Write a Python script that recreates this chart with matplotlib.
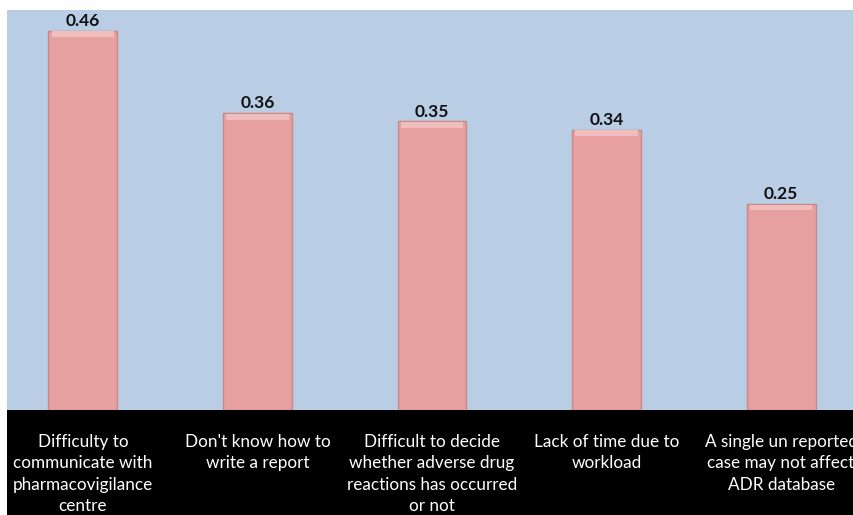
import matplotlib
matplotlib.use("Agg")
import matplotlib.pyplot as plt

# ---- Data ----
categories = [
    "Difficulty to\ncommunicate with\npharmacovigilance\ncentre",
    "Don't know how to\nwrite a report",
    "Difficult to decide\nwhether adverse drug\nreactions has occurred\nor not",
    "Lack of time due to\nworkload",
    "A single un reported\ncase may not affect\nADR database",
]
values = [0.46, 0.36, 0.35, 0.34, 0.25]

# ---- Style ----
BG = "#B9CDE5"
BAR = "#E6A09F"
BAR_EDGE = "#C98887"
HIGHLIGHT = "#EEBDBC"
W, H = 854, 515

plt.rcParams["font.family"] = ["Lato", "DejaVu Sans"]

fig = plt.figure(figsize=(W / 100, H / 100), dpi=100)
fig.patch.set_facecolor("white")

# plot area (blue)
ax = fig.add_axes([7 / W, 105 / H, 850 / W, 400 / H])
ax.set_facecolor(BG)
x = list(range(len(values)))
ax.bar(x, values, width=0.395, color=BAR, edgecolor=BAR_EDGE, linewidth=1.0, zorder=2)
# soft bevel strip at top of each bar
ax.bar(x, [0.007] * len(values), bottom=[v - 0.008 for v in values], width=0.36,
       color=HIGHLIGHT, linewidth=0, zorder=3)
ax.set_xlim(-0.435, len(values) - 0.565)
ax.set_ylim(0, 0.485)
ax.set_xticks([])
ax.set_yticks([])
for s in ax.spines.values():
    s.set_visible(False)

for xi, v in zip(x, values):
    ax.text(xi, v + 0.002, f"{v:.2f}", ha="center", va="bottom",
            fontsize=12.5, fontweight="bold", color="#111111", zorder=4)

# black label band
lab = fig.add_axes([7 / W, 0, 850 / W, 105 / H], sharex=ax)
lab.set_facecolor("black")
lab.set_ylim(0, 1)
lab.set_xticks([])
lab.set_yticks([])
for s in lab.spines.values():
    s.set_visible(False)
for xi, c in zip(x, categories):
    lab.text(xi, 0.77, c, ha="center", va="top", color="white",
             fontsize=12.3, linespacing=1.4)

fig.savefig("out.png", dpi=100)
